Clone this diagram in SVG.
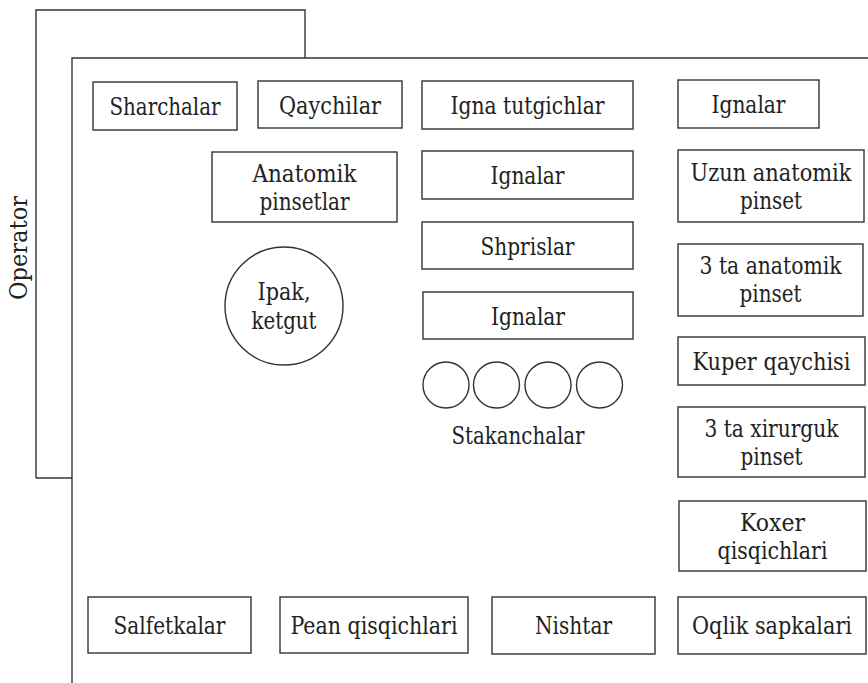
<svg xmlns="http://www.w3.org/2000/svg" width="868" height="683" viewBox="0 0 868 683">
<style>
text{font-family:'DejaVu Serif Condensed','DejaVu Serif','Liberation Serif',serif;font-stretch:condensed;font-size:24px;fill:#222;text-anchor:middle}
.b{fill:#fff;stroke:#333;stroke-width:1.4}
.f{fill:none;stroke:#333;stroke-width:1.4}
</style>
<rect width="868" height="683" fill="#fff"/>
<g id="frames">
<path class="f" d="M36,478 V10 H305 V58"/>
<path class="f" d="M36,478 H72"/>
<path class="f" d="M72,683 V58 H868"/>
<text transform="translate(27,248) rotate(-90)" textLength="104" lengthAdjust="spacingAndGlyphs">Operator</text>
</g>
<g id="connectors"></g>
<g id="sharchalar"><rect class="b" x="93" y="82" width="144" height="48"/><text x="165" y="115" textLength="111" lengthAdjust="spacingAndGlyphs">Sharchalar</text></g>
<g id="qaychilar"><rect class="b" x="258" y="81" width="144" height="47"/><text x="330" y="114" textLength="102" lengthAdjust="spacingAndGlyphs">Qaychilar</text></g>
<g id="igna-tutgichlar"><rect class="b" x="422" y="81" width="211" height="48"/><text x="527.5" y="114" textLength="154" lengthAdjust="spacingAndGlyphs">Igna tutgichlar</text></g>
<g id="ignalar-top"><rect class="b" x="678" y="80" width="141" height="48"/><text x="748.5" y="113" textLength="74" lengthAdjust="spacingAndGlyphs">Ignalar</text></g>
<g id="anatomik-pinsetlar"><rect class="b" x="212" y="152" width="185" height="70"/><text x="304.5" y="182" textLength="104" lengthAdjust="spacingAndGlyphs">Anatomik</text><text x="304.5" y="210" textLength="90" lengthAdjust="spacingAndGlyphs">pinsetlar</text></g>
<g id="ignalar-2"><rect class="b" x="422" y="151" width="211" height="48"/><text x="527.5" y="184" textLength="74" lengthAdjust="spacingAndGlyphs">Ignalar</text></g>
<g id="shprislar"><rect class="b" x="422" y="222" width="211" height="47"/><text x="527.5" y="254.5" textLength="94" lengthAdjust="spacingAndGlyphs">Shprislar</text></g>
<g id="ignalar-3"><rect class="b" x="423" y="292" width="210" height="47"/><text x="528" y="324.5" textLength="74" lengthAdjust="spacingAndGlyphs">Ignalar</text></g>
<g id="uzun-anatomik"><rect class="b" x="678" y="150" width="186" height="72"/><text x="771" y="181" textLength="161" lengthAdjust="spacingAndGlyphs">Uzun anatomik</text><text x="771" y="209" textLength="62" lengthAdjust="spacingAndGlyphs">pinset</text></g>
<g id="anatomik-3"><rect class="b" x="678" y="244" width="185" height="72"/><text x="770.5" y="274" textLength="142" lengthAdjust="spacingAndGlyphs">3 ta anatomik</text><text x="770.5" y="302" textLength="62" lengthAdjust="spacingAndGlyphs">pinset</text></g>
<g id="kuper"><rect class="b" x="678" y="337" width="187" height="48"/><text x="771.5" y="370" textLength="158" lengthAdjust="spacingAndGlyphs">Kuper qaychisi</text></g>
<g id="xirurguk"><rect class="b" x="678" y="407" width="187" height="70"/><text x="771.5" y="437" textLength="134" lengthAdjust="spacingAndGlyphs">3 ta xirurguk</text><text x="771.5" y="465" textLength="62" lengthAdjust="spacingAndGlyphs">pinset</text></g>
<g id="koxer"><rect class="b" x="679" y="501" width="187" height="70"/><text x="772.5" y="531" textLength="65" lengthAdjust="spacingAndGlyphs">Koxer</text><text x="772.5" y="559" textLength="110" lengthAdjust="spacingAndGlyphs">qisqichlari</text></g>
<g id="salfetkalar"><rect class="b" x="88" y="597" width="163" height="56"/><text x="169.5" y="634" textLength="112" lengthAdjust="spacingAndGlyphs">Salfetkalar</text></g>
<g id="pean"><rect class="b" x="280" y="597" width="188" height="56"/><text x="374" y="634" textLength="167" lengthAdjust="spacingAndGlyphs">Pean qisqichlari</text></g>
<g id="nishtar"><rect class="b" x="492" y="597" width="163" height="57"/><text x="573.5" y="634" textLength="77" lengthAdjust="spacingAndGlyphs">Nishtar</text></g>
<g id="oqlik"><rect class="b" x="678" y="597" width="188" height="57"/><text x="772" y="634" textLength="160" lengthAdjust="spacingAndGlyphs">Oqlik sapkalari</text></g>
<g id="ipak"><circle class="b" cx="284" cy="306" r="59"/><text x="284" y="300" textLength="53" lengthAdjust="spacingAndGlyphs">Ipak,</text><text x="284" y="329" textLength="65" lengthAdjust="spacingAndGlyphs">ketgut</text></g>
<g id="stakanchalar">
<circle class="b" cx="446" cy="385" r="23"/>
<circle class="b" cx="496.5" cy="385" r="23"/>
<circle class="b" cx="548" cy="385" r="23"/>
<circle class="b" cx="599.5" cy="385" r="23"/>
<text x="518" y="444" textLength="133" lengthAdjust="spacingAndGlyphs">Stakanchalar</text>
</g>
</svg>
